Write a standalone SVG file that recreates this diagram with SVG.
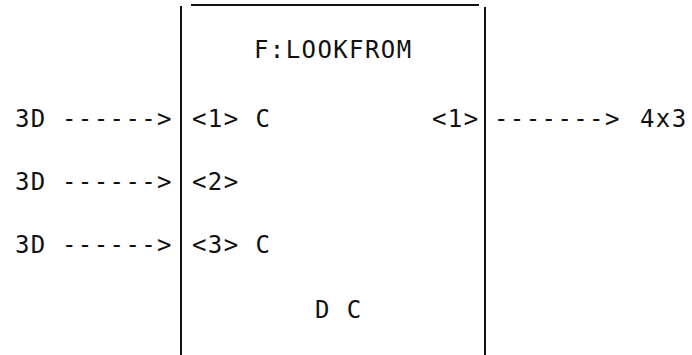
<svg xmlns="http://www.w3.org/2000/svg" width="692" height="355" viewBox="0 0 692 355">
<style>
  .t { font-family: "DejaVu Sans Mono", "Liberation Mono", monospace; font-size: 24px; letter-spacing: 1.4px; fill: #111; }
  .ln { stroke: #111; stroke-width: 2; fill: none; }
</style>
<rect width="692" height="355" fill="#fff"/>
<g id="box-lookfrom">
  <line class="ln" x1="181" y1="6" x2="181" y2="355"/>
  <line class="ln" x1="485" y1="7" x2="485" y2="355"/>
  <line class="ln" x1="191" y1="5" x2="479" y2="5"/>
  <text class="t" x="254" y="58">F:LOOKFROM</text>
  <text class="t" x="192" y="127">&lt;1&gt; C</text>
  <text class="t" x="192" y="190">&lt;2&gt;</text>
  <text class="t" x="192" y="253">&lt;3&gt; C</text>
  <text class="t" x="315" y="318">D C</text>
  <text class="t" x="432" y="127">&lt;1&gt;</text>
</g>
<g id="input-1"><text class="t" x="15" y="127">3D</text></g>
<g id="input-2"><text class="t" x="15" y="190">3D</text></g>
<g id="input-3"><text class="t" x="15" y="253">3D</text></g>
<g id="output-1"><text class="t" x="640" y="127">4x3</text></g>
<g id="connectors">
  <text class="t" x="62" y="127">------&gt;</text>
  <text class="t" x="62" y="190">------&gt;</text>
  <text class="t" x="62" y="253">------&gt;</text>
  <text class="t" x="494" y="127">-------&gt;</text>
</g>
</svg>
